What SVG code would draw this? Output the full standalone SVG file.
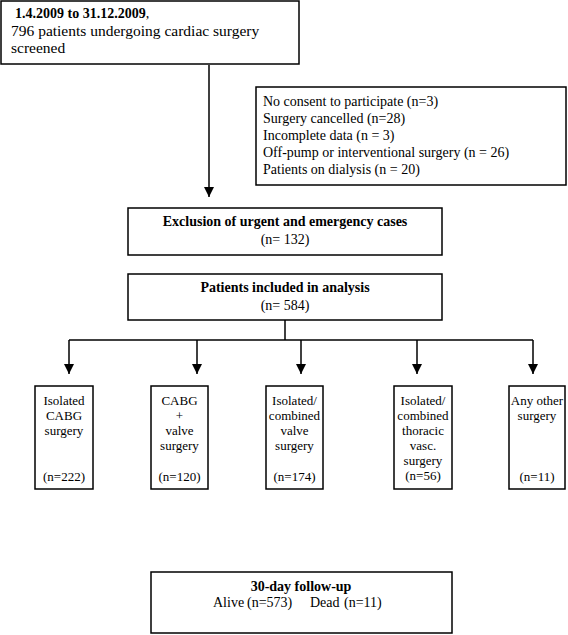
<svg xmlns="http://www.w3.org/2000/svg" width="568" height="635" viewBox="0 0 568 635">
<style>
.box{fill:#fff;stroke:#000;stroke-width:1.5}
.t{font-family:"Liberation Serif","Times New Roman",serif;font-size:14px;fill:#000}
.lg{font-size:15.5px}
.sm{font-size:13px}
.c{text-anchor:middle}
.b{font-weight:bold}
.ln{stroke:#000;stroke-width:1.5;fill:none}
</style>
<defs>
<marker id="ah" markerWidth="10" markerHeight="10" refX="10" refY="5" orient="auto" markerUnits="userSpaceOnUse" viewBox="0 0 10 10">
<path d="M0,0 L10,5 L0,10 Z" fill="#000"/>
</marker>
</defs>
<rect width="568" height="635" fill="#fff"/>
<g id="connectors">
<line class="ln" x1="209" y1="65" x2="209" y2="197" marker-end="url(#ah)"/>
<line class="ln" x1="285" y1="320" x2="285" y2="340"/>
<line class="ln" x1="69" y1="340" x2="533" y2="340"/>
<line class="ln" x1="69" y1="340" x2="69" y2="374" marker-end="url(#ah)"/>
<line class="ln" x1="197" y1="340" x2="197" y2="374" marker-end="url(#ah)"/>
<line class="ln" x1="301" y1="340" x2="301" y2="374" marker-end="url(#ah)"/>
<line class="ln" x1="417" y1="340" x2="417" y2="374" marker-end="url(#ah)"/>
<line class="ln" x1="533" y1="340" x2="533" y2="374" marker-end="url(#ah)"/>
</g>
<g id="screened">
<rect class="box" x="1" y="1" width="298" height="63"/>
<text class="t b" x="15" y="18" font-size="15px">1.4.2009 to 31.12.2009<tspan font-weight="normal">,</tspan></text>
<text class="t lg" x="11" y="36">796 patients undergoing cardiac surgery</text>
<text class="t lg" x="11" y="53">screened</text>
</g>
<g id="excluded-list">
<rect class="box" x="256" y="87" width="310" height="98"/>
<text class="t" x="263" y="106">No consent to participate (n=3)</text>
<text class="t" x="263" y="123">Surgery cancelled (n=28)</text>
<text class="t" x="263" y="140">Incomplete data (n = 3)</text>
<text class="t" x="263" y="157">Off-pump or interventional surgery (n = 26)</text>
<text class="t" x="263" y="174">Patients on dialysis (n = 20)</text>
</g>
<g id="exclusion">
<rect class="box" x="128" y="208" width="314" height="47"/>
<text class="t c b" x="285" y="226">Exclusion of urgent and emergency cases</text>
<text class="t c" x="285" y="244">(n= 132)</text>
</g>
<g id="included">
<rect class="box" x="128" y="274" width="314" height="46"/>
<text class="t c b" x="285" y="292">Patients included in analysis</text>
<text class="t c" x="285" y="310">(n= 584)</text>
</g>
<g id="cabg">
<rect class="box" x="35" y="386" width="58" height="103"/>
<text class="t sm c" x="64" y="405">Isolated</text>
<text class="t sm c" x="64" y="420">CABG</text>
<text class="t sm c" x="64" y="435">surgery</text>
<text class="t sm c" x="64" y="481">(n=222)</text>
</g>
<g id="cabg-valve">
<rect class="box" x="151" y="386" width="57" height="103"/>
<text class="t sm c" x="179.5" y="405">CABG</text>
<text class="t sm c" x="179.5" y="420">+</text>
<text class="t sm c" x="179.5" y="435">valve</text>
<text class="t sm c" x="179.5" y="450">surgery</text>
<text class="t sm c" x="179.5" y="481">(n=120)</text>
</g>
<g id="valve">
<rect class="box" x="266" y="386" width="57" height="103"/>
<text class="t sm c" x="294.5" y="405">Isolated/</text>
<text class="t sm c" x="294.5" y="420">combined</text>
<text class="t sm c" x="294.5" y="435">valve</text>
<text class="t sm c" x="294.5" y="450">surgery</text>
<text class="t sm c" x="294.5" y="481">(n=174)</text>
</g>
<g id="thoracic">
<rect class="box" x="394" y="386" width="58" height="103"/>
<text class="t sm c" x="423" y="405">Isolated/</text>
<text class="t sm c" x="423" y="420">combined</text>
<text class="t sm c" x="423" y="435">thoracic</text>
<text class="t sm c" x="423" y="450">vasc.</text>
<text class="t sm c" x="423" y="465">surgery</text>
<text class="t sm c" x="423" y="480">(n=56)</text>
</g>
<g id="other">
<rect class="box" x="509" y="386" width="56" height="103"/>
<text class="t sm c" x="537" y="405">Any other</text>
<text class="t sm c" x="537" y="420">surgery</text>
<text class="t sm c" x="537" y="481">(n=11)</text>
</g>
<g id="followup">
<rect class="box" x="151" y="572" width="301" height="61"/>
<text class="t c b" x="301" y="591">30-day follow-up</text>
<text class="t" y="607"><tspan x="213">Alive</tspan><tspan x="247">(n=573)</tspan><tspan x="310">Dead</tspan><tspan x="344">(n=11)</tspan></text>
</g>
</svg>
